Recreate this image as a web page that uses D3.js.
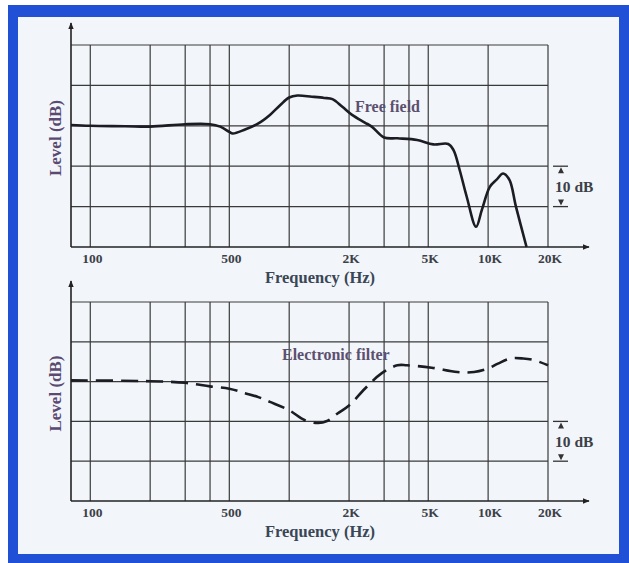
<!DOCTYPE html>
<html>
<head>
<meta charset="utf-8">
<script src="https://cdn.jsdelivr.net/npm/d3@7"></script>
<style>
  body { margin: 0; background: #ffffff; }
  svg { display: block; }
</style>
</head>
<body>
<div id="chart"></div>
<script>
// Grid frequencies and labelled ticks
const gridFreqs = [100, 200, 300, 400, 500, 1000, 2000, 3000, 4000, 5000, 10000, 20000];
const tickFreqs = [100, 500, 2000, 5000, 10000, 20000];
const tickLabels = ["100", "500", "2K", "5K", "10K", "20K"];
const gridLevels = [10, 20, 30, 40, 50];

// Free field response (Hz, dB)
const freeFreq = [80, 100, 150, 200, 300, 400, 450, 500, 520, 600, 700, 800, 900, 1000, 1100, 1300, 1500, 1650,
    1850, 2070, 2400, 2600, 3000, 3500, 4400, 5300, 6300, 6700, 7200, 7800, 8700, 9300, 10200, 11000, 11900,
    12800, 13800, 15600];
const freeLevel = [30.2, 30, 29.9, 29.8, 30.4, 30.4, 29.8, 28.5, 28.1, 29.1, 30.6, 32.7, 35.1, 37, 37.5, 37.2, 36.9, 36.6,
    34.7, 32.7, 30.8, 29.8, 27.1, 26.9, 26.5, 25.4, 25.5, 24, 19, 12.5, 5, 9.2, 14.9, 16.6, 18.2,
    16.6, 10, 0];

// Electronic filter response (Hz, dB)
const filterFreq = [80, 200, 300, 400, 500, 600, 700, 800, 1000, 1200, 1400, 1550, 1750, 2000, 2400, 2900, 3500,
    3900, 5200, 7000, 8500, 10000, 11200, 12900, 15000, 17000, 20000];
const filterLevel = [30.3, 30.1, 29.7, 28.8, 28.2, 27.1, 26.1, 24.9, 22.8, 20.3, 19.6, 20.1, 22, 24, 28.2, 32, 34.1,
    34.1, 33.5, 32.4, 32.4, 33.3, 34.5, 35.8, 35.8, 35.4, 34.1];

const width = 629, height = 563;

const svg = d3.select("#chart").append("svg")
    .attr("width", width)
    .attr("height", height)
    .style("font-family", "'Liberation Serif', 'DejaVu Serif', serif");

// Blue frame
svg.append("rect")
    .attr("x", 8).attr("y", 5)
    .attr("width", 621).attr("height", 558)
    .attr("fill", "#1f50d6");
svg.append("rect")
    .attr("x", 18).attr("y", 17)
    .attr("width", 601).attr("height", 537)
    .attr("fill", "#f2f6fa");

const x = d3.scaleLog().domain([80, 20000]).range([71, 548]);

const defs = svg.append("defs");
defs.append("marker")
    .attr("id", "arrow")
    .attr("viewBox", "0 0 10 10")
    .attr("refX", 9).attr("refY", 5)
    .attr("markerWidth", 7).attr("markerHeight", 7)
    .attr("markerUnits", "userSpaceOnUse")
    .attr("orient", "auto")
    .append("path")
    .attr("d", "M0,1 L10,5 L0,9 Z")
    .attr("fill", "#222");

function drawPanel(top, bottom, arrowTop, freqs, levels, label, labelX, labelY, dashed) {
    const y = d3.scaleLinear().domain([0, 50]).range([bottom, top]);
    const g = svg.append("g");

    // Horizontal grid
    g.selectAll(".hgrid")
        .data(gridLevels)
        .enter().append("line")
        .attr("x1", x(80)).attr("x2", x(20000))
        .attr("y1", d => y(d)).attr("y2", d => y(d))
        .attr("stroke", "#3a3a3a")
        .attr("stroke-width", 1.2);

    // Vertical grid
    g.selectAll(".vgrid")
        .data(gridFreqs)
        .enter().append("line")
        .attr("x1", d => x(d)).attr("x2", d => x(d))
        .attr("y1", y(50)).attr("y2", y(0))
        .attr("stroke", "#3a3a3a")
        .attr("stroke-width", 1.2);

    // Axes with arrows
    g.append("line")
        .attr("x1", x(80)).attr("x2", x(80))
        .attr("y1", y(0)).attr("y2", arrowTop)
        .attr("stroke", "#222").attr("stroke-width", 1.6)
        .attr("marker-end", "url(#arrow)");
    g.append("line")
        .attr("x1", x(80)).attr("x2", 589)
        .attr("y1", y(0)).attr("y2", y(0))
        .attr("stroke", "#222").attr("stroke-width", 1.6)
        .attr("marker-end", "url(#arrow)");

    // Tick labels
    g.selectAll(".tick")
        .data(tickFreqs)
        .enter().append("text")
        .attr("x", d => x(d) + 2)
        .attr("y", y(0) + 16)
        .attr("text-anchor", "middle")
        .attr("font-size", 13.5)
        .attr("font-weight", "bold")
        .attr("fill", "#3c4048")
        .text((d, i) => tickLabels[i]);

    g.append("text")
        .attr("x", 320)
        .attr("y", y(0) + 36)
        .attr("text-anchor", "middle")
        .attr("font-size", 16.5)
        .attr("font-weight", "bold")
        .attr("fill", "#3a4656")
        .text("Frequency (Hz)");

    g.append("text")
        .attr("transform", `translate(61,${(y(0) + y(50)) / 2 - 8}) rotate(-90)`)
        .attr("text-anchor", "middle")
        .attr("font-size", 17)
        .attr("font-weight", "bold")
        .attr("fill", "#5a4a72")
        .text("Level (dB)");

    // 10 dB bracket
    const bx = 561;
    g.selectAll(".bracket")
        .data([20, 10])
        .enter().append("line")
        .attr("x1", bx - 8).attr("x2", bx + 7)
        .attr("y1", d => y(d)).attr("y2", d => y(d))
        .attr("stroke", "#333").attr("stroke-width", 1.3);
    g.append("path")
        .attr("d", `M${bx},${y(20) + 1} l-3,6 h6 Z M${bx},${y(10) - 1} l-3,-6 h6 Z`)
        .attr("fill", "#333");
    g.append("text")
        .attr("x", 555)
        .attr("y", (y(20) + y(10)) / 2 + 6)
        .attr("font-size", 15.5)
        .attr("font-weight", "bold")
        .attr("fill", "#3c4048")
        .text("10 dB");

    // Response curve
    const pts = freqs.map((f, i) => [f, levels[i]]);
    const line = d3.line()
        .x(d => x(d[0]))
        .y(d => y(d[1]))
        .curve(d3.curveCatmullRom.alpha(0.5));
    g.append("path")
        .datum(pts)
        .attr("d", line)
        .attr("fill", "none")
        .attr("stroke", "#1c1c24")
        .attr("stroke-width", 2.6)
        .attr("stroke-dasharray", dashed ? "17,8" : null);

    g.append("text")
        .attr("x", labelX)
        .attr("y", labelY)
        .attr("font-size", 16)
        .attr("font-weight", "bold")
        .attr("fill", "#5c5070")
        .text(label);
}

drawPanel(45, 247, 23, freeFreq, freeLevel, "Free field", 355, 112, false);
drawPanel(302, 501, 281, filterFreq, filterLevel, "Electronic filter", 282, 360, true);
</script>
</body>
</html>
